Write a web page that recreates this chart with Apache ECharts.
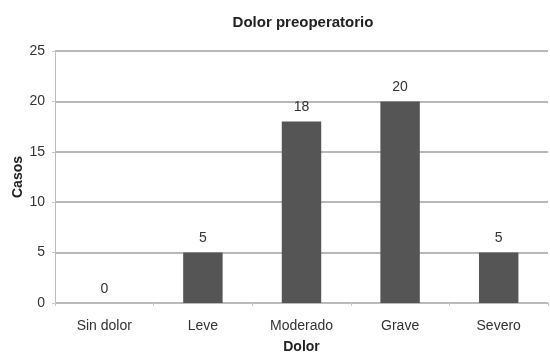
<!DOCTYPE html>
<html>
<head>
<meta charset="utf-8">
<script src="https://cdn.jsdelivr.net/npm/echarts@6/dist/echarts.min.js"></script>
<style>
  html, body { margin: 0; padding: 0; background: #fff; }
  #chart { width: 550px; height: 352px; }
</style>
</head>
<body>
<div id="chart"></div>
<script>
// Dolor preoperatorio: número de casos por intensidad de dolor
const categories = ['Sin dolor', 'Leve', 'Moderado', 'Grave', 'Severo'];
const casos = [0, 5, 18, 20, 5];
const yTicks = { min: 0, max: 25, interval: 5 };

const font = '"Liberation Sans", Arial, sans-serif';
const chart = echarts.init(document.getElementById('chart'), null, { renderer: 'canvas' });

chart.setOption({
  backgroundColor: '#ffffff',
  animation: false,
  title: {
    text: 'Dolor preoperatorio',
    left: 298,
    top: 10,
    textAlign: 'center',
    textStyle: { fontFamily: font, fontSize: 15, fontWeight: 'bold', color: '#222' }
  },
  grid: { left: 55, right: 2, top: 51, bottom: 49, outerBoundsMode: 'none', containLabel: false },
  xAxis: {
    type: 'category',
    data: categories,
    name: 'Dolor',
    nameLocation: 'middle',
    nameGap: 37,
    nameMoveOverlap: false,
    nameTextStyle: { fontFamily: font, fontSize: 14, fontWeight: 'bold', color: '#222' },
    axisLine: { lineStyle: { color: '#bbbbbb', width: 1 } },
    axisTick: { show: true, length: 3, lineStyle: { color: '#c8c8c8' } },
    axisLabel: { fontFamily: font, fontSize: 14, color: '#333', margin: 16 }
  },
  yAxis: {
    type: 'value',
    min: yTicks.min,
    max: yTicks.max,
    interval: yTicks.interval,
    name: 'Casos',
    nameLocation: 'middle',
    nameGap: 30,
    nameMoveOverlap: false,
    nameRotate: 90,
    nameTextStyle: { fontFamily: font, fontSize: 14, fontWeight: 'bold', color: '#222' },
    axisLine: { show: true, lineStyle: { color: '#bbbbbb', width: 1 } },
    axisTick: { show: true, length: 3, lineStyle: { color: '#c8c8c8' } },
    axisLabel: { fontFamily: font, fontSize: 14, color: '#333', margin: 10 },
    splitLine: { lineStyle: { color: '#b8b8b8', width: 2 } }
  },
  series: [{
    type: 'bar',
    data: casos,
    barWidth: '40%',
    itemStyle: { color: '#555555' },
    label: {
      show: true,
      position: 'top',
      distance: 7,
      fontFamily: font,
      fontSize: 14,
      color: '#333'
    }
  }]
});
</script>
</body>
</html>
